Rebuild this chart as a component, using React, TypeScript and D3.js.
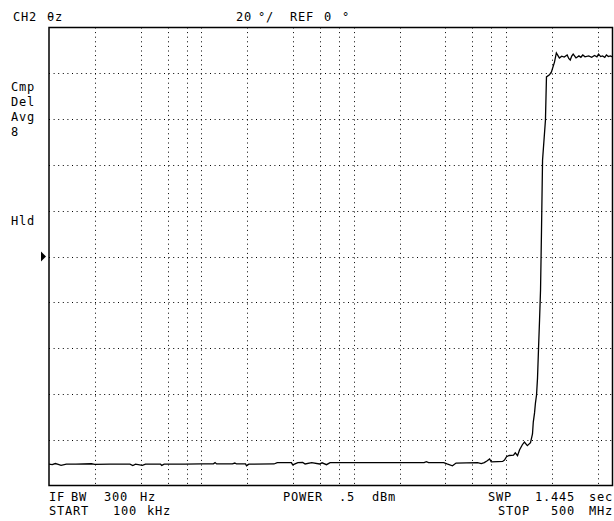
import { useMemo } from "react";
import * as d3 from "d3";

// trace (frequency in MHz, phase in degrees)
const freqMHz = [
  0.1, 0.105, 0.11, 0.115, 0.12, 0.13, 0.15, 0.19, 0.2, 0.25, 0.34, 0.355, 0.37, 0.41, 0.43,
  0.54, 0.55, 0.57, 0.78, 1.0, 1.2, 1.23, 1.26, 1.6, 1.66, 1.7, 1.95, 1.98, 2.05, 3.0, 3.15,
  3.9, 3.98, 4.3, 4.63, 4.8, 5.3, 5.97, 6.2, 6.63, 7.0, 15, 20, 29, 30, 31, 39, 41, 44.5, 47,
  55, 65, 68.8, 72, 75.3, 78, 80, 88, 95, 97.7, 100.8, 105, 112, 115, 119, 122.6, 128, 132,
  138, 144.8, 149.2, 151, 153.9, 156, 158.6, 161, 163.5, 166, 168.5, 171, 173.7, 181.5,
  184.3, 192.8, 198.7, 208, 214, 224, 232, 241, 252, 258, 264, 270, 276, 288, 301, 310, 319,
  330, 349, 365, 381, 395, 405, 418, 430, 445, 456, 470, 484, 500,
];
const phaseDeg = [
  -90.7, -90.9, -90.4, -90.8, -91.2, -90.7, -90.7, -90.5, -90.8, -90.7, -90.7, -91.3, -90.7,
  -91.2, -90.7, -90.7, -91.2, -90.7, -90.7, -90.6, -90.5, -90.0, -90.6, -90.6, -90.2, -90.6,
  -90.6, -91.4, -90.7, -90.6, -90.0, -90.0, -91.0, -90.0, -89.9, -90.6, -90.0, -90.6, -90.1,
  -90.9, -90.0, -90.0, -90.0, -90.0, -89.6, -90.0, -90.0, -90.6, -91.4, -90.2, -90.1, -90.0,
  -90.4, -90.0, -89.2, -88.4, -89.7, -89.6, -89.5, -88.9, -87.4, -86.9, -86.7, -85.7, -87.0,
  -84.5, -82.2, -81.0, -82.6, -81.3, -77.5, -72.3, -68.3, -64.0, -60.5, -53.0, -40.0, -27.7,
  -14.6, 11.6, 42.1, 59.6, 78.4, 79.3, 80.6, 84.9, 88.9, 86.7, 87.5, 87.1, 88.0, 86.5, 85.8,
  87.5, 88.4, 86.7, 87.6, 87.0, 88.0, 87.2, 87.6, 87.0, 87.8, 87.2, 88.4, 87.3, 87.6, 87.0,
  88.0, 87.3, 87.6, 87.2,
];

// graticule
const gridFreqs = [0.2, 0.4, 0.6, 0.8, 1, 2, 4, 6, 8, 10, 20, 40, 60, 80, 100, 200, 400];
const gridPhases = [-80, -60, -40, -20, 0, 20, 40, 60, 80];

const leftNotes = ["Cmp", "Del", "Avg", "8"];

const W = 614;
const H = 521;
const plot = { left: 49, right: 612.5, top: 27.5, bottom: 485.5 };
const FONT = "'DejaVu Sans Mono', monospace";

export default function App() {
  const x = d3.scaleLog().domain([0.1, 500]).range([plot.left, plot.right]);
  const y = d3.scaleLinear().domain([-100, 100]).range([plot.bottom, plot.top]);

  const path = useMemo(() => {
    const pts: [number, number][] = freqMHz.map((f, i) => [f, phaseDeg[i]]);
    return d3
      .line<[number, number]>()
      .x((d) => x(d[0]))
      .y((d) => y(d[1]))(pts);
  }, []);

  // 8px character cell, like the analyzer's screen font
  const txt = {
    fontFamily: FONT,
    fontSize: 12,
    letterSpacing: 0.8,
    fill: "#000",
  };

  // one <text> per word, placed on the screen's character grid
  const words = (items: [string, number][], yy: number) =>
    items.map(([s, xx]) => (
      <text key={s + xx + "_" + yy} x={xx} y={yy} style={txt}>
        {s}
      </text>
    ));

  return (
    <svg
      width={W}
      height={H}
      style={{ position: "absolute", left: 0, top: 0, background: "#fff" }}
    >
      {/* header */}
      {words([["CH2", 13], ["θz", 47]], 21)}
      {words([["20", 236], ["°/", 258], ["REF", 290], ["0", 324], ["°", 342]], 21)}

      {/* grid */}
      {gridFreqs.map((f) => (
        <line
          key={"v" + f}
          x1={Math.round(x(f)) + 0.5}
          x2={Math.round(x(f)) + 0.5}
          y1={plot.top}
          y2={plot.bottom}
          stroke="#000"
          strokeWidth={1}
          strokeDasharray="1,3.6"
        />
      ))}
      {gridPhases.map((p) => (
        <line
          key={"h" + p}
          x1={plot.left}
          x2={plot.right}
          y1={Math.round(y(p)) + 0.5}
          y2={Math.round(y(p)) + 0.5}
          stroke="#000"
          strokeWidth={1}
          strokeDasharray="1,3.6"
        />
      ))}

      {/* trace */}
      <path d={path ?? ""} fill="none" stroke="#000" strokeWidth={1.3} />

      {/* frame */}
      <rect
        x={plot.left}
        y={plot.top}
        width={plot.right - plot.left}
        height={plot.bottom - plot.top}
        fill="none"
        stroke="#000"
        strokeWidth={1.5}
      />

      {/* reference marker */}
      <path
        d={`M${plot.left - 8},${y(0) - 5} L${plot.left - 3},${y(0)} L${plot.left - 8},${y(0) + 5} Z`}
        fill="#000"
      />

      {/* left annotations */}
      {leftNotes.map((s, i) => (
        <text key={s} x={11} y={91 + i * 15} style={txt}>
          {s}
        </text>
      ))}
      <text x={11} y={225} style={txt}>Hld</text>

      {/* footer */}
      {words([["IF", 49], ["BW", 71], ["300", 104], ["Hz", 140]], 501)}
      {words([["START", 49], ["100", 113], ["kHz", 147]], 515)}
      {words([["POWER", 283], [".5", 339], ["dBm", 372]], 501)}
      {words([["SWP", 488], ["1.445", 535], ["sec", 589]], 501)}
      {words([["STOP", 498], ["500", 551], ["MHz", 589]], 515)}
    </svg>
  );
}
